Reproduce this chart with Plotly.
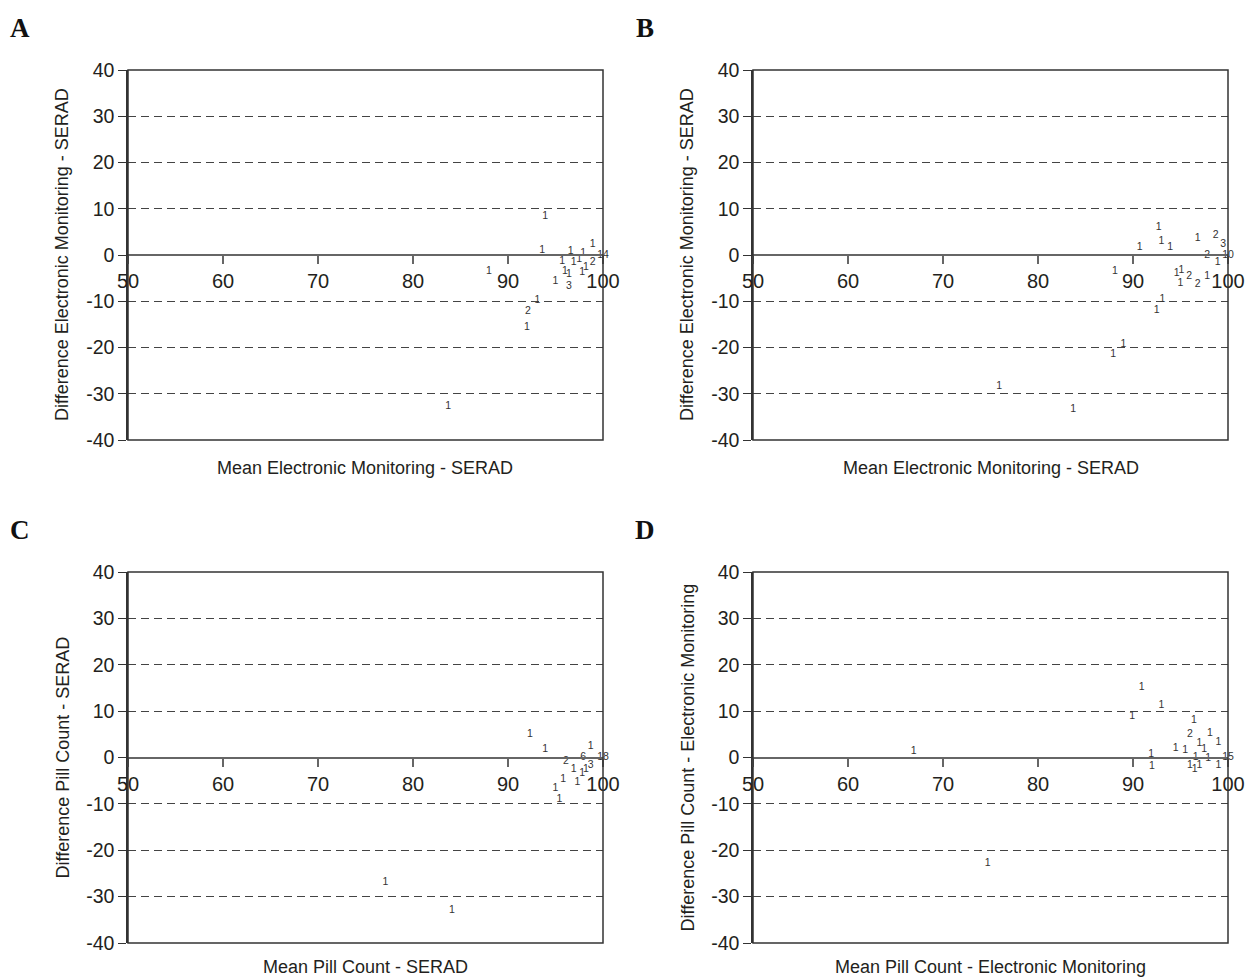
import plotly.graph_objects as go

# page body has an 8px margin; the figure is sized/placed to compensate
OFF = 8
W, H = 1255 - OFF, 979 - OFF

# ---------------- data ----------------
x_ticks = [50, 60, 70, 80, 90, 100]
y_ticks = [-40, -30, -20, -10, 0, 10, 20, 30, 40]

A_mean = [93.9, 93.6, 98.9, 96.6, 97.9, 95.7, 96.9, 97.5, 98.2, 98.9, 100.0, 88.0, 96.0, 96.4, 97.8, 95.0, 96.4, 93.1, 92.1, 92.0, 83.7]
A_diff = [8.3, 0.9, 2.3, 0.7, 0.4, -1.3, -1.6, -0.9, -2.6, -1.5, 0.0, -3.5, -3.5, -4.1, -3.8, -5.7, -6.8, -9.8, -12.1, -15.6, -32.8]
A_n = ["1", "1", "1", "1", "1", "1", "1", "1", "1", "2", "14", "1", "1", "1", "1", "1", "3", "1", "2", "1", "1"]

B_mean = [92.7, 93.0, 90.7, 93.9, 96.8, 98.7, 99.5, 97.8, 100.0, 98.9, 88.1, 94.6, 95.1, 95.0, 95.9, 96.8, 97.8, 93.1, 92.5, 89.0, 87.9, 75.9, 83.7]
B_diff = [5.9, 2.9, 1.6, 1.6, 3.7, 4.3, 2.4, 0.0, 0.0, -1.7, -3.6, -3.9, -3.4, -6.1, -4.7, -6.4, -4.7, -9.5, -12.0, -19.3, -21.4, -28.3, -33.3]
B_n = ["1", "1", "1", "1", "1", "2", "3", "2", "10", "1", "1", "1", "1", "1", "2", "2", "1", "1", "1", "1", "1", "1", "1"]

C_mean = [92.3, 93.9, 98.7, 96.1, 97.9, 100.0, 96.9, 97.8, 98.2, 98.7, 95.8, 97.3, 95.0, 95.4, 77.1, 84.1]
C_diff = [5.0, 1.8, 2.3, -0.9, 0.0, 0.0, -2.6, -3.4, -2.6, -1.8, -4.7, -5.4, -6.6, -9.1, -27.0, -32.9]
C_n = ["1", "1", "1", "2", "6", "18", "1", "1", "1", "3", "1", "1", "1", "1", "1", "1"]

D_mean = [90.9, 93.0, 89.9, 96.4, 96.0, 98.1, 97.0, 99.0, 94.5, 95.5, 97.5, 91.9, 96.6, 97.9, 100.0, 92.0, 96.0, 97.0, 96.5, 99.0, 66.9, 74.7]
D_diff = [15.2, 11.3, 8.9, 7.9, 4.9, 5.2, 3.1, 3.2, 1.9, 1.6, 1.8, 0.6, 0.1, -0.1, 0.0, -1.9, -1.6, -1.6, -2.6, -1.8, 1.4, -22.8]
D_n = ["1", "1", "1", "1", "2", "1", "1", "1", "1", "1", "1", "1", "1", "1", "15", "1", "1", "1", "1", "1", "1", "1"]

panels = [
    ("A", A_mean, A_diff, A_n, "Mean Electronic Monitoring - SERAD", "Difference Electronic Monitoring - SERAD"),
    ("B", B_mean, B_diff, B_n, "Mean Electronic Monitoring - SERAD", "Difference Electronic Monitoring - SERAD"),
    ("C", C_mean, C_diff, C_n, "Mean Pill Count - SERAD", "Difference Pill Count - SERAD"),
    ("D", D_mean, D_diff, D_n, "Mean Pill Count - Electronic Monitoring", "Difference Pill Count - Electronic Monitoring"),
]

# target pixel boxes of each plot area in the screenshot: (left, right, top, bottom)
boxes = [(128, 603, 70, 440), (753, 1228, 70, 440), (128, 603, 572, 943), (753, 1228, 572, 943)]
title_gap = [28, 28, 24, 24]
letter_pos = [(20, 28), (645, 28), (20, 530), (645, 530)]


def px(x):
    return (x - OFF) / W


def py(y):
    return 1 - (y - OFF) / H


FONT = "Liberation Sans, Arial, sans-serif"
TXT = "#231f20"

fig = go.Figure()
layout = dict(
    template="none",
    width=W, height=H, margin=dict(l=0, r=0, t=0, b=0, autoexpand=False),
    paper_bgcolor="white", plot_bgcolor="white", showlegend=False,
    font=dict(family=FONT, color=TXT),
)
annotations = []
shapes = []

for i, (letter, xs, ys, ns, xt, yt) in enumerate(panels):
    k = "" if i == 0 else str(i + 1)
    l, r, t, b = boxes[i]
    xd = [px(l), px(r)]
    yd = [py(b), py(t)]
    fig.add_trace(go.Scatter(
        x=xs, y=ys, text=ns, mode="text", textposition="middle center",
        textfont=dict(size=10.5, color="#333333", family=FONT),
        xaxis="x" + k, yaxis="y" + k, hoverinfo="skip", cliponaxis=False,
    ))
    layout["xaxis" + k] = dict(
        domain=xd, range=[50, 100], anchor="free", position=(yd[0] + yd[1]) / 2,
        automargin=False,
        tickvals=x_ticks, ticktext=[str(v) for v in x_ticks],
        showline=True, linecolor="#666666", linewidth=2,
        ticks="outside", ticklen=8, tickcolor="#666666", tickwidth=1.5,
        tickfont=dict(size=20, color=TXT, family=FONT),
        showgrid=False, zeroline=False,
    )
    layout["yaxis" + k] = dict(
        domain=yd, range=[-40, 40], anchor="x" + k,
        automargin=False,
        tickvals=y_ticks, ticktext=[str(v) for v in y_ticks],
        showline=True, linecolor="#333333", linewidth=1.5,
        ticks="outside", ticklen=8, tickcolor="#333333", tickwidth=1.2,
        tickfont=dict(size=19.5, color=TXT, family=FONT),
        showgrid=True, gridcolor="#444444", gridwidth=1.3, griddash="8px,5px",
        zeroline=False,
    )
    shapes.append(dict(type="rect", xref="x" + k + " domain", yref="y" + k + " domain",
                       x0=0, x1=1, y0=0, y1=1, line=dict(color="#333333", width=1.5),
                       layer="above"))
    annotations.append(dict(text=xt, xref="paper", yref="paper",
                            x=px((l + r) / 2), y=py(b + title_gap[i]),
                            showarrow=False, font=dict(size=18, color=TXT, family=FONT),
                            xanchor="center", yanchor="middle"))
    annotations.append(dict(text=yt, xref="paper", yref="paper",
                            x=px(l - 66), y=py((t + b) / 2), textangle=-90,
                            showarrow=False, font=dict(size=18, color=TXT, family=FONT),
                            xanchor="center", yanchor="middle"))
    lx, ly = letter_pos[i]
    annotations.append(dict(text="<b>" + letter + "</b>", xref="paper", yref="paper",
                            x=px(lx), y=py(ly), showarrow=False,
                            font=dict(size=27, color="#111111", family="Liberation Serif, Times New Roman, serif"),
                            xanchor="center", yanchor="middle"))

layout["annotations"] = annotations
layout["shapes"] = shapes
fig.update_layout(**layout)
fig.write_html("out.html")
